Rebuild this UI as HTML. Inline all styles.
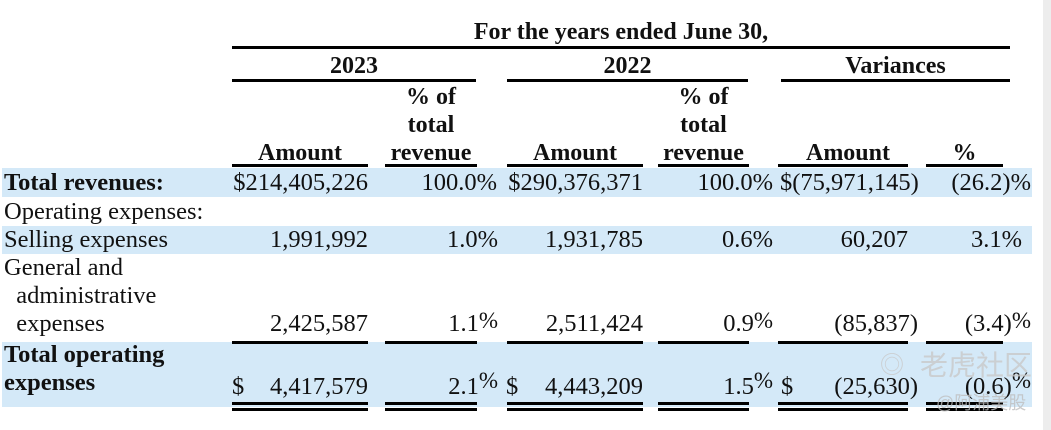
<!DOCTYPE html>
<html><head><meta charset="utf-8"><style>
body{margin:0;width:1051px;height:430px;background:#fff;position:relative;overflow:hidden;font-family:"Liberation Serif",serif;color:#111}
.a{position:absolute;font-size:24.5px;line-height:28px;white-space:nowrap}
.r{text-align:right}
.b{font-weight:bold}
.c{text-align:center}
.h{font-size:24px}
.ln{position:absolute;height:3px;background:#000}
.sh{position:absolute;left:2px;width:1030px;background:#d4e9f8}
.p{position:relative;top:-3px;font-size:23px}
.pp{position:relative;top:-6px;font-size:23px}
</style></head><body>
<div class="sh" style="top:168px;height:29px"></div>
<div class="sh" style="top:226px;height:28px"></div>
<div class="sh" style="top:342px;height:65px"></div>
<div style="position:absolute;left:1043px;top:0;width:8px;height:430px;background:#ededed"></div>

<div class="a b c h" style="left:232px;width:778px;top:18px">For the years ended June 30,</div>
<div class="ln" style="left:232px;width:778px;top:46px"></div>
<div class="a b c h" style="left:232px;width:244px;top:52px">2023</div>
<div class="a b c h" style="left:507px;width:241px;top:52px">2022</div>
<div class="a b c h" style="left:781px;width:229px;top:52px">Variances</div>
<div class="ln" style="left:232px;width:244px;top:79px"></div>
<div class="ln" style="left:507px;width:241px;top:79px"></div>
<div class="ln" style="left:781px;width:229px;top:79px"></div>

<div class="a b c h" style="left:232px;width:136px;top:139px">Amount</div>
<div class="a b c h" style="left:385px;width:92px;top:83px">% of<br>total<br>revenue</div>
<div class="a b c h" style="left:507px;width:136px;top:139px">Amount</div>
<div class="a b c h" style="left:658px;width:91px;top:83px">% of<br>total<br>revenue</div>
<div class="a b c h" style="left:778px;width:140px;top:139px">Amount</div>
<div class="a b c h" style="left:926px;width:77px;top:139px">%</div>
<div class="ln" style="left:232px;width:136px;top:164px"></div>
<div class="ln" style="left:385px;width:92px;top:164px"></div>
<div class="ln" style="left:507px;width:136px;top:164px"></div>
<div class="ln" style="left:658px;width:91px;top:164px"></div>
<div class="ln" style="left:778px;width:130px;top:164px"></div>
<div class="ln" style="left:926px;width:77px;top:164px"></div>

<div class="a b" style="left:4px;top:169px">Total revenues:</div>
<div class="a" style="left:4px;top:198px">Operating expenses:</div>
<div class="a" style="left:4px;top:226px">Selling expenses</div>
<div class="a" style="left:4px;top:254px">General and<br>&nbsp;&nbsp;administrative<br>&nbsp;&nbsp;expenses</div>
<div class="a b" style="left:4px;top:341px">Total operating<br>expenses</div>

<div class="a r" style="left:200px;width:168px;top:169px">$214,405,226</div>
<div class="a r" style="left:385px;width:112px;top:169px">100.0%</div>
<div class="a r" style="left:480px;width:163px;top:169px">$290,376,371</div>
<div class="a r" style="left:658px;width:115px;top:169px">100.0%</div>
<div class="a" style="left:780px;top:169px">$(75,971,145)</div>
<div class="a r" style="left:926px;width:105px;top:169px">(26.2)%</div>

<div class="a r" style="left:232px;width:136px;top:226px">1,991,992</div>
<div class="a r" style="left:385px;width:113px;top:226px">1.0%</div>
<div class="a r" style="left:507px;width:136px;top:226px">1,931,785</div>
<div class="a r" style="left:658px;width:115px;top:226px">0.6%</div>
<div class="a r" style="left:778px;width:130px;top:226px">60,207</div>
<div class="a r" style="left:926px;width:96px;top:226px">3.1%</div>

<div class="a r" style="left:232px;width:136px;top:310px">2,425,587</div>
<div class="a r" style="left:385px;width:113px;top:310px">1.1<span class="p">%</span></div>
<div class="a r" style="left:507px;width:136px;top:310px">2,511,424</div>
<div class="a r" style="left:658px;width:115px;top:310px">0.9<span class="p">%</span></div>
<div class="a r" style="left:778px;width:140px;top:310px">(85,837)</div>
<div class="a r" style="left:926px;width:105px;top:310px">(3.4)<span class="p">%</span></div>

<div class="ln" style="left:232px;width:136px;top:341px"></div>
<div class="ln" style="left:385px;width:92px;top:341px"></div>
<div class="ln" style="left:507px;width:136px;top:341px"></div>
<div class="ln" style="left:658px;width:91px;top:341px"></div>
<div class="ln" style="left:778px;width:130px;top:341px"></div>
<div class="ln" style="left:926px;width:77px;top:341px"></div>

<div class="a" style="left:232px;top:373px">$</div>
<div class="a r" style="left:232px;width:136px;top:373px">4,417,579</div>
<div class="a r" style="left:385px;width:113px;top:373px">2.1<span class="pp">%</span></div>
<div class="a" style="left:506px;top:373px">$</div>
<div class="a r" style="left:507px;width:136px;top:373px">4,443,209</div>
<div class="a r" style="left:658px;width:115px;top:373px">1.5<span class="pp">%</span></div>
<div class="a" style="left:781px;top:373px">$</div>
<div class="a r" style="left:778px;width:140px;top:373px">(25,630)</div>
<div class="a r" style="left:926px;width:105px;top:373px">(0.6)<span class="pp">%</span></div>

<div class="ln" style="left:232px;width:136px;top:402px"></div>
<div class="ln" style="left:232px;width:136px;top:408px"></div>
<div class="ln" style="left:385px;width:92px;top:402px"></div>
<div class="ln" style="left:385px;width:92px;top:408px"></div>
<div class="ln" style="left:507px;width:136px;top:402px"></div>
<div class="ln" style="left:507px;width:136px;top:408px"></div>
<div class="ln" style="left:658px;width:91px;top:402px"></div>
<div class="ln" style="left:658px;width:91px;top:408px"></div>
<div class="ln" style="left:778px;width:130px;top:402px"></div>
<div class="ln" style="left:778px;width:130px;top:408px"></div>
<div class="ln" style="left:926px;width:77px;top:402px"></div>
<div class="ln" style="left:926px;width:77px;top:408px"></div>

<div class="a" style="left:880px;top:352px;font-family:'Liberation Sans','Noto Sans CJK SC',sans-serif;font-size:24px;color:rgba(200,200,200,0.8)">◎</div>
<div class="a" style="left:920px;top:350px;font-family:'Liberation Sans','Noto Sans CJK SC',sans-serif;font-size:28px;line-height:32px;color:rgba(200,200,200,0.8)">老虎社区</div>
<div class="a" style="left:936px;top:392px;font-family:'Liberation Sans','Noto Sans CJK SC',sans-serif;font-size:18px;line-height:22px;color:rgba(190,190,190,0.8)">@阿浦美股</div>
</body></html>
